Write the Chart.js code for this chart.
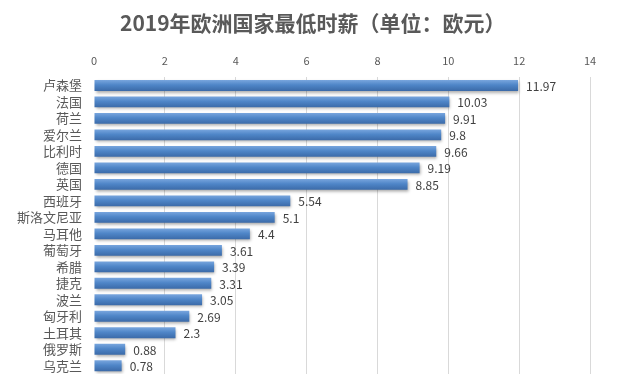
<!DOCTYPE html>
<html><head><meta charset="utf-8">
<script src="https://cdn.jsdelivr.net/npm/chart.js@4"></script>
<style>html,body{margin:0;padding:0;background:#fff;}#wrap{width:630px;height:379px;}</style>
</head><body><div id="wrap"><canvas id="c" width="630" height="379"></canvas></div>
<script>
const titleText = "2019年欧洲国家最低时薪（单位：欧元）";
const countries = ["卢森堡","法国","荷兰","爱尔兰","比利时","德国","英国","西班牙","斯洛文尼亚","马耳他","葡萄牙","希腊","捷克","波兰","匈牙利","土耳其","俄罗斯","乌克兰"];
const wages = [11.97,10.03,9.91,9.8,9.66,9.19,8.85,5.54,5.1,4.4,3.61,3.39,3.31,3.05,2.69,2.3,0.88,0.78];
const xTicks = [0,2,4,6,8,10,12,14];

const FONT = "'Noto Sans CJK SC','Noto Sans',sans-serif";

const shadowPlugin = {
  id:'shadow',
  beforeDatasetDraw(chart){
    const ctx = chart.ctx; ctx.save();
    ctx.shadowColor='rgba(0,0,0,0.35)'; ctx.shadowBlur=3; ctx.shadowOffsetX=1; ctx.shadowOffsetY=2;
  },
  afterDatasetDraw(chart){ chart.ctx.restore(); }
};
const labelPlugin = {
  id:'vlabels',
  afterDatasetsDraw(chart){
    const ctx = chart.ctx; const meta = chart.getDatasetMeta(0);
    ctx.save(); ctx.font = "12px "+FONT; ctx.fillStyle='#404040';
    ctx.textAlign='left'; ctx.textBaseline='middle';
    meta.data.forEach((el,i)=>{ ctx.fillText(String(wages[i]), el.x+8, el.y+1); });
    ctx.restore();
  }
};
const titlePlugin = {
  id:'ctitle',
  afterDraw(chart){
    const ctx = chart.ctx; ctx.save();
    ctx.font = "bold 21px "+FONT; ctx.fillStyle='#595959';
    ctx.textAlign='left'; ctx.textBaseline='middle';
    ctx.fillText(titleText, 120, 23);
    ctx.restore();
  }
};

new Chart(document.getElementById('c'),{
  type:'bar',
  data:{labels:countries,datasets:[{data:wages,
    backgroundColor(ctx){
      const chart=ctx.chart; const ys=chart.scales.y;
      if(!ys || ctx.dataIndex===undefined) return '#4f86c8';
      const y=ys.getPixelForValue(ctx.dataIndex);
      if(!isFinite(y)) return '#4f86c8';
      const g=chart.ctx.createLinearGradient(0,y-5.5,0,y+5.5);
      g.addColorStop(0,'#79a6de'); g.addColorStop(0.45,'#4f86c8'); g.addColorStop(1,'#3b6aa8');
      return g;
    },
    borderWidth:0, categoryPercentage:1, barPercentage:0.66}]},
  options:{
    indexAxis:'y', responsive:false, animation:false,
    layout:{padding:{left:0,right:40,top:44,bottom:5}},
    plugins:{legend:{display:false},tooltip:{enabled:false},title:{display:false}},
    scales:{
      x:{position:'top',min:0,max:14,
        afterBuildTicks(s){ s.ticks = xTicks.map(v=>({value:v})); },
        grid:{color(c){ return c.tick && c.tick.value===0 ? 'rgba(0,0,0,0)' : '#d9d9d9'; },drawTicks:false},
        border:{display:false},
        ticks:{color:'#595959',font:{family:FONT,size:11},padding:10}},
      y:{grid:{display:false,drawTicks:false},border:{display:false},
        afterFit(s){ s.width=94; s.paddingTop=0; s.paddingBottom=0; },
        ticks:{autoSkip:false,color:'#595959',font:{family:FONT,size:13},padding:12}}
    }
  },
  plugins:[shadowPlugin,labelPlugin,titlePlugin]
});
</script></body></html>
